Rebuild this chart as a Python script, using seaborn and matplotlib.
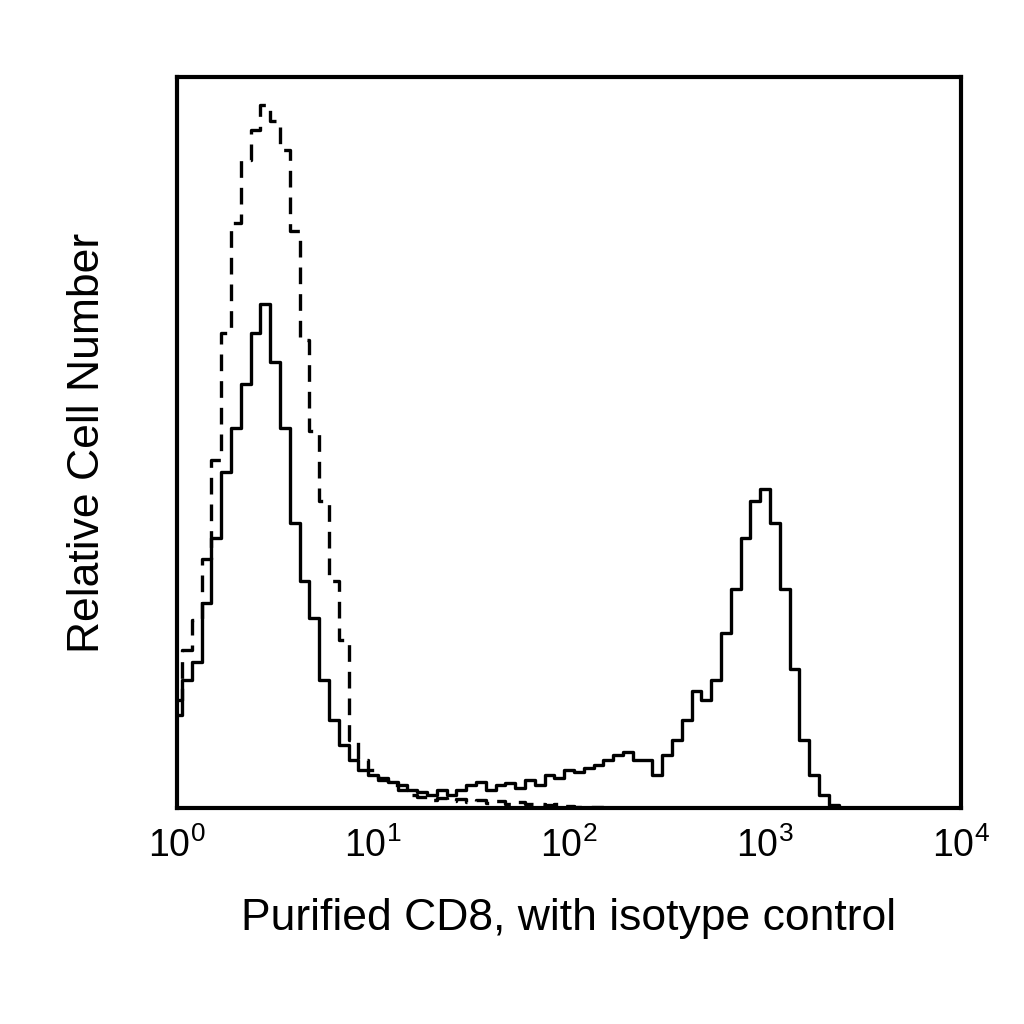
import matplotlib

matplotlib.use("Agg", force=True)
import matplotlib.pyplot as plt
import numpy as np
import pandas as pd
import seaborn as sns

# log10 fluorescence bin centres, step 0.05 from 0 to 4
log_bins = np.round(np.arange(0, 4.001, 0.05), 2)

cd8 = [12.7, 17.5, 20, 28, 37, 46, 52, 58, 65, 69, 61, 52, 39, 31, 26, 17.5, 12, 8.6, 6.6, 5.2,
       4.5, 3.8, 3.6, 3.1, 2.5, 2.2, 1.8, 2.5, 1.8, 2.5, 3.1, 3.6, 2.5, 3.1, 3.4, 2.7, 3.8, 3.1, 4.5, 4.1,
       5.2, 4.9, 5.5, 5.9, 6.6, 7.3, 7.7, 6.6, 6.6, 4.5, 7.3, 9.3, 12, 16, 14.8, 17.5, 24, 30, 37, 42,
       43.6, 39, 30, 19, 9.3, 4.5, 1.8, 0.4, 0, 0, 0, 0, 0, 0, 0, 0, 0, 0, 0, 0, 0]
isotype = [14.8, 21.6, 25.7, 34, 47.6, 65, 80, 88.6, 92.7, 96.2, 94, 90, 79, 64, 51.6, 42, 31, 23, 9.3, 6.6,
           5.2, 4.1, 3.1, 2.5, 1.8, 1.5, 1.1, 1.4, 0.9, 1.2, 0.8, 1.1, 0.7, 0.9, 0.6, 0.8, 0.5, 0.6, 0.4, 0.5,
           0.3, 0.2, 0.2, 0.1, 0, 0, 0, 0, 0, 0, 0, 0, 0, 0, 0, 0, 0, 0, 0, 0,
           0, 0, 0, 0, 0, 0, 0, 0, 0, 0, 0, 0, 0, 0, 0, 0, 0, 0, 0, 0, 0]

df = pd.DataFrame({"x": 10 ** log_bins, "cd8": cd8, "iso": isotype})

sns.set_theme(style="white")
plt.rcParams["font.family"] = ["Liberation Sans", "DejaVu Sans"]
plt.rcParams["mathtext.fontset"] = "custom"
plt.rcParams["mathtext.rm"] = "Liberation Sans"
plt.rcParams["text.color"] = "black"
plt.rcParams["xtick.color"] = "black"
plt.rcParams["axes.labelcolor"] = "black"

fig = plt.figure(figsize=(10.24, 10.24), dpi=100)
ax = fig.add_axes([177 / 1024, 1 - 808 / 1024, 784 / 1024, 731 / 1024])
sns.lineplot(data=df, x="x", y="iso", ax=ax, color="black", lw=2.4, drawstyle="steps-mid",
             linestyle=(0, (5, 3)))
sns.lineplot(data=df, x="x", y="cd8", ax=ax, color="black", lw=2.4, drawstyle="steps-mid")
ax.set_xscale("log")
ax.set_xlim(1, 1e4)
ax.set_ylim(0, 100)
ax.set_yticks([])
ax.set_xticks([1, 10, 100, 1000, 10000])
ax.set_xticklabels([r"$\mathrm{10^{%d}}$" % i for i in range(5)])
ax.minorticks_off()
ax.tick_params(axis="x", labelsize=27, length=0, pad=14)
for s in ax.spines.values():
    s.set_linewidth(3)
    s.set_color("black")
ax.set_xlabel("Purified CD8, with isotype control", fontsize=32, labelpad=24)
ax.set_ylabel("Relative Cell Number", fontsize=32, labelpad=50)
fig.savefig("out.png")
